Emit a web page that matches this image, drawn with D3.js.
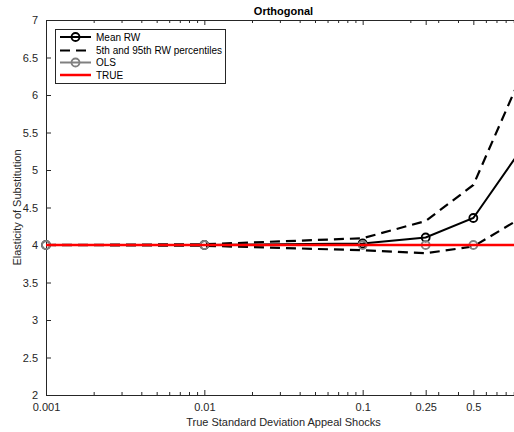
<!DOCTYPE html>
<html><head><meta charset="utf-8">
<script src="https://cdn.jsdelivr.net/npm/d3@7"></script>
<style>body{margin:0;background:#fff;overflow:hidden}svg{display:block}</style>
</head><body>
<script>
const shocks = [0.001, 0.01, 0.1, 0.25, 0.5, 1];
const meanRW = [4.0, 4.0, 4.02, 4.10, 4.36, 5.27];
const p95 = [4.0, 4.01, 4.09, 4.32, 4.8, 6.25];
const p5 = [4.0, 3.99, 3.93, 3.89, 3.98, 4.36];
const ols = [4.0, 4.0, 4.0, 4.0, 4.0, 4.0];
const trueVal = 4;
const xTickVals = [0.001, 0.01, 0.1, 0.25, 0.5, 1];
const xTickLabels = ["0.001", "0.01", "0.1", "0.25", "0.5", ""];
const yTickVals = [2, 2.5, 3, 3.5, 4, 4.5, 5, 5.5, 6, 6.5, 7];
const legendLabels = ["Mean RW", "5th and 95th RW percentiles", "OLS", "TRUE"];

const W = 514, H = 432;
const L = 46, R = 521, T = 20, B = 395;
const font = "'Liberation Sans', Arial, Helvetica, sans-serif";
const axisCol = "#262626";

const svg = d3.select("body").append("svg").attr("width", W).attr("height", H);
const x = d3.scaleLog().domain([0.001, 1]).range([L, R]);
const y = d3.scaleLinear().domain([2, 7]).range([B, T]);

const minor = [];
[0.001, 0.01, 0.1].forEach(d => { for (let k = 2; k <= 9; k++) minor.push(d * k); });
const minorTicks = minor.filter(v => !xTickVals.some(t => Math.abs(t - v) < 1e-9));

svg.append("path").attr("d", `M${L},${T}H${R}V${B}H${L}Z`).attr("fill", "none")
  .attr("stroke", axisCol).attr("stroke-width", 1).attr("shape-rendering", "crispEdges");

const xAxisB = d3.axisBottom(x).tickValues(xTickVals).tickSize(-5)
  .tickFormat((d, i) => xTickLabels[i]).tickPadding(8);
const gxb = svg.append("g").attr("transform", `translate(0,${B})`).call(xAxisB);
gxb.select(".domain").remove();
gxb.selectAll("line").attr("stroke", axisCol);
gxb.selectAll("text").attr("font-family", font).attr("font-size", 11).attr("fill", axisCol);

const xAxisBm = d3.axisBottom(x).tickValues(minorTicks).tickSize(-3).tickFormat("");
const gxbm = svg.append("g").attr("transform", `translate(0,${B})`).call(xAxisBm);
gxbm.select(".domain").remove(); gxbm.selectAll("line").attr("stroke", axisCol);

const xAxisT = d3.axisTop(x).tickValues(xTickVals).tickSize(-5).tickFormat("");
const gxt = svg.append("g").attr("transform", `translate(0,${T})`).call(xAxisT);
gxt.select(".domain").remove(); gxt.selectAll("line").attr("stroke", axisCol);
const xAxisTm = d3.axisTop(x).tickValues(minorTicks).tickSize(-3).tickFormat("");
const gxtm = svg.append("g").attr("transform", `translate(0,${T})`).call(xAxisTm);
gxtm.select(".domain").remove(); gxtm.selectAll("line").attr("stroke", axisCol);

const yAxisL = d3.axisLeft(y).tickValues(yTickVals).tickSize(-5).tickPadding(8)
  .tickFormat(d3.format("~g"));
const gyl = svg.append("g").attr("transform", `translate(${L},0)`).call(yAxisL);
gyl.select(".domain").remove();
gyl.selectAll("line").attr("stroke", axisCol);
gyl.selectAll("text").attr("font-family", font).attr("font-size", 11).attr("fill", axisCol);
const yAxisR = d3.axisRight(y).tickValues(yTickVals).tickSize(-5).tickFormat("");
const gyr = svg.append("g").attr("transform", `translate(${R},0)`).call(yAxisR);
gyr.select(".domain").remove(); gyr.selectAll("line").attr("stroke", axisCol);

const line = d3.line().x(d => x(d[0])).y(d => y(d[1]));
const zip = arr => shocks.map((s, i) => [s, arr[i]]);

[p95, p5].forEach(arr => {
  svg.append("path").attr("d", line(zip(arr))).attr("fill", "none")
    .attr("stroke", "#000").attr("stroke-width", 2.2).attr("stroke-dasharray", "10,6");
});
svg.append("path").attr("d", line(zip(meanRW))).attr("fill", "none")
  .attr("stroke", "#000").attr("stroke-width", 2);
svg.selectAll(".mk").data(zip(meanRW)).enter().append("circle")
  .attr("cx", d => x(d[0])).attr("cy", d => y(d[1])).attr("r", 4)
  .attr("fill", "none").attr("stroke", "#000").attr("stroke-width", 1.8);
svg.append("path").attr("d", line(zip(ols))).attr("fill", "none")
  .attr("stroke", "#808080").attr("stroke-width", 2);
svg.selectAll(".mo").data(zip(ols)).enter().append("circle")
  .attr("cx", d => x(d[0])).attr("cy", d => y(d[1])).attr("r", 4)
  .attr("fill", "none").attr("stroke", "#808080").attr("stroke-width", 1.8);
svg.append("line").attr("x1", x(0.001)).attr("x2", x(1)).attr("y1", y(trueVal)).attr("y2", y(trueVal))
  .attr("stroke", "#ff0000").attr("stroke-width", 2.5);

svg.append("text").attr("x", (L + R) / 2).attr("y", 15).attr("text-anchor", "middle")
  .attr("font-family", font).attr("font-size", 11).attr("font-weight", "bold").attr("fill", "#000")
  .text("Orthogonal");
svg.append("text").attr("x", (L + R) / 2).attr("y", 426).attr("text-anchor", "middle")
  .attr("font-family", font).attr("font-size", 11).attr("fill", axisCol)
  .text("True Standard Deviation Appeal Shocks");
svg.append("text").attr("transform", `translate(21,${(T + B) / 2}) rotate(-90)`).attr("text-anchor", "middle")
  .attr("font-family", font).attr("font-size", 11).attr("fill", axisCol)
  .text("Elasticity of Substitution");

const lg = svg.append("g");
lg.append("rect").attr("x", 55.5).attr("y", 29.5).attr("width", 170).attr("height", 54)
  .attr("fill", "#fff").attr("stroke", axisCol).attr("stroke-width", 1);
const legRows = [37, 50.5, 62.5, 75];
const legStyle = [
  {c: "#000", dash: null, mk: true, w: 2},
  {c: "#000", dash: "10,6", mk: false, w: 2.2},
  {c: "#808080", dash: null, mk: true, w: 2},
  {c: "#ff0000", dash: null, mk: false, w: 2.5}
];
legendLabels.forEach((lab, i) => {
  const s = legStyle[i], yy = legRows[i];
  lg.append("line").attr("x1", 60).attr("x2", 91).attr("y1", yy).attr("y2", yy)
    .attr("stroke", s.c).attr("stroke-width", s.w).attr("stroke-dasharray", s.dash);
  if (s.mk) lg.append("circle").attr("cx", 75.5).attr("cy", yy).attr("r", 4)
    .attr("fill", "none").attr("stroke", s.c).attr("stroke-width", 1.8);
  lg.append("text").attr("x", 96).attr("y", yy + 3.6).attr("font-family", font)
    .attr("font-size", 10).attr("fill", "#000").text(lab);
});
</script>
</body></html>
